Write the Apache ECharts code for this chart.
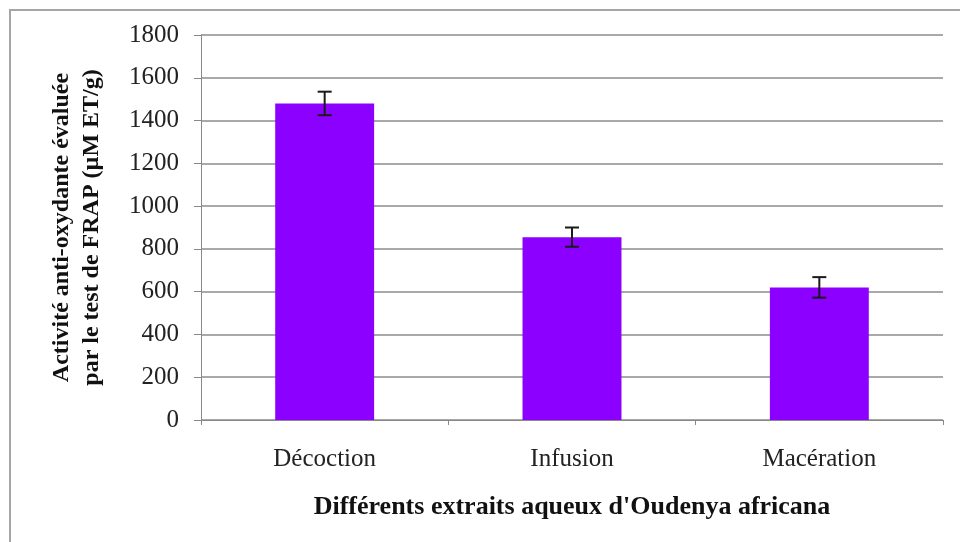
<!DOCTYPE html>
<html>
<head>
<meta charset="utf-8">
<script src="https://cdn.jsdelivr.net/npm/echarts@6/dist/echarts.min.js"></script>
<style>
html,body{margin:0;padding:0;background:#fff;}
#c{width:960px;height:542px;}
</style>
</head>
<body>
<div id="c"></div>
<script>
var categories = ['Décoction', 'Infusion', 'Macération'];
var values = [1480, 855, 620];
var errors = [55, 45, 48];
var yTicks = [0, 200, 400, 600, 800, 1000, 1200, 1400, 1600, 1800];

var errData = values.map(function (v, i) { return [i, v - errors[i], v + errors[i]]; });

var chart = echarts.init(document.getElementById('c'), null, {renderer: 'canvas'});
var serif = '"Liberation Serif", "Times New Roman", serif';
chart.setOption({
  animation: false,
  backgroundColor: '#fff',
  graphic: [{
    type: 'rect',
    shape: {x: 10, y: 10, width: 1000, height: 600},
    style: {fill: 'none', stroke: '#a6a6a6', lineWidth: 2},
    silent: true
  }],
  grid: {left: 201, right: 17, top: 35, bottom: 122},
  xAxis: {
    type: 'category',
    data: categories,
    name: "Différents extraits aqueux d'Oudenya africana",
    nameLocation: 'middle',
    nameGap: 74,
    nameTextStyle: {fontFamily: serif, fontWeight: 'bold', fontSize: 26, color: '#111', verticalAlign: 'top'},
    axisLine: {lineStyle: {color: '#888', width: 1}},
    axisTick: {show: true, length: 5, lineStyle: {color: '#888'}},
    axisLabel: {fontFamily: serif, fontSize: 25, color: '#222', margin: 27}
  },
  yAxis: {
    type: 'value',
    min: 0, max: 1800, interval: 200,
    name: 'Activité anti-oxydante évaluée\npar le test de FRAP (µM ET/g)',
    nameLocation: 'middle',
    nameGap: 94,
    nameRotate: 90,
    nameTextStyle: {fontFamily: serif, fontWeight: 'bold', fontSize: 24, color: '#111', lineHeight: 30},
    axisLine: {show: true, lineStyle: {color: '#888', width: 1}},
    axisTick: {show: true, length: 7, lineStyle: {color: '#888'}},
    axisLabel: {fontFamily: serif, fontSize: 25, color: '#222', margin: 22,
      formatter: function (v) { return yTicks.indexOf(v) >= 0 ? String(v) : ''; }},
    splitLine: {show: true, lineStyle: {color: '#8c8c8c', width: 1.5}}
  },
  series: [{
    type: 'bar',
    data: values,
    barWidth: '40%',
    itemStyle: {color: '#8b00ff'}
  }, {
    type: 'custom',
    data: errData,
    z: 10,
    renderItem: function (params, api) {
      var x = api.value(0);
      var lo = api.coord([x, api.value(1)]);
      var hi = api.coord([x, api.value(2)]);
      var hw = 7;
      var st = {stroke: '#1a1a1a', lineWidth: 2};
      return {
        type: 'group',
        children: [
          {type: 'line', shape: {x1: lo[0], y1: lo[1], x2: hi[0], y2: hi[1]}, style: st},
          {type: 'line', shape: {x1: hi[0] - hw, y1: hi[1], x2: hi[0] + hw, y2: hi[1]}, style: st},
          {type: 'line', shape: {x1: lo[0] - hw, y1: lo[1], x2: lo[0] + hw, y2: lo[1]}, style: st}
        ]
      };
    }
  }]
});
</script>
</body>
</html>
